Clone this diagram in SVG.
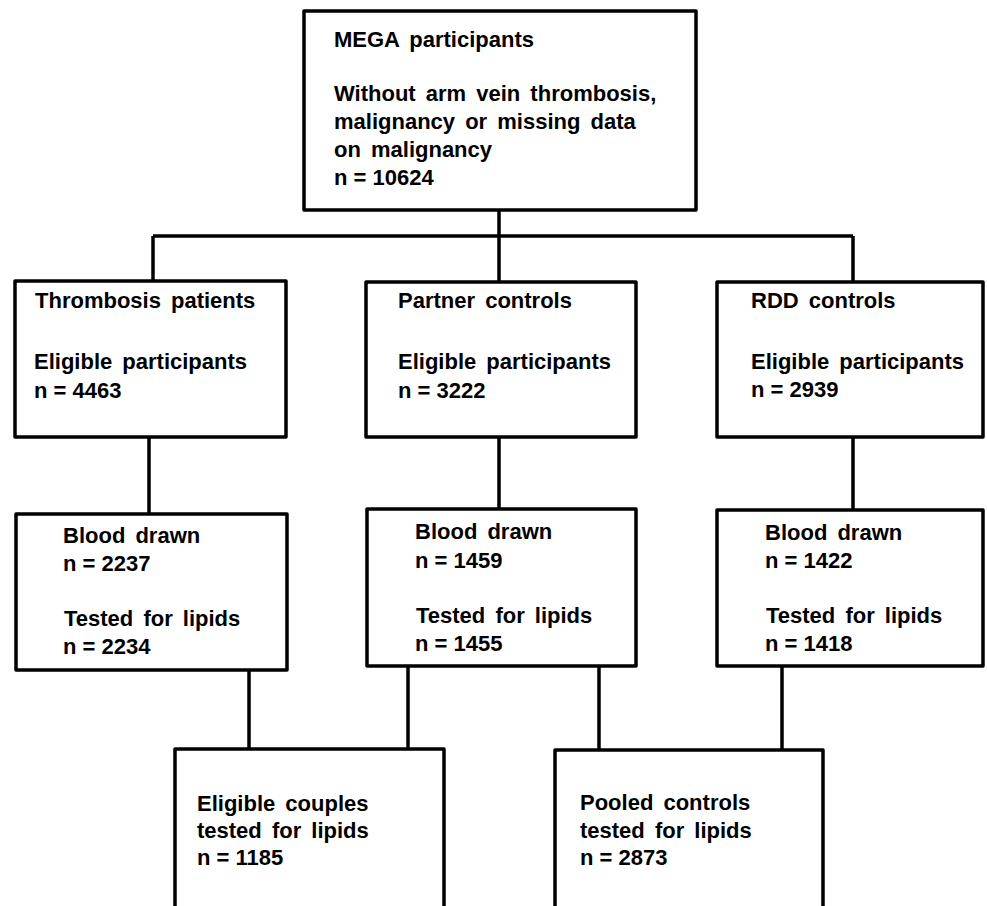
<svg xmlns="http://www.w3.org/2000/svg" width="987" height="906" viewBox="0 0 987 906">
<style>
.box{fill:#fff;stroke:#000;stroke-width:3.5;stroke-linejoin:round}
.ln{fill:none;stroke:#000;stroke-width:3.5}
text{font-family:"Liberation Sans",Arial,sans-serif;font-size:22px;font-weight:bold;fill:#000;word-spacing:4px}
text.n{word-spacing:0}
</style>
<rect width="987" height="906" fill="#fff"/>
<g id="connectors">
<path class="ln" d="M499 210V282M153 236H853M153 236V282M853 236V282"/>
<path class="ln" d="M149 437V514M499 437V509M853 437V510"/>
<path class="ln" d="M249 670V749M408 666V749M599 666V750M782 666V750"/>
</g>
<g id="mega">
<rect class="box" x="304" y="11" width="392" height="199"/>
<text x="334" y="47">MEGA participants</text>
<text x="334" y="101">Without arm vein thrombosis,</text>
<text x="334" y="129">malignancy or missing data</text>
<text x="334" y="157">on malignancy</text>
<text class="n" x="334" y="185">n = 10624</text>
</g>
<g id="thrombosis">
<rect class="box" x="15" y="281" width="271" height="156"/>
<text x="35" y="308">Thrombosis patients</text>
<text x="34" y="369">Eligible participants</text>
<text class="n" x="34" y="398">n = 4463</text>
</g>
<g id="partner">
<rect class="box" x="366" y="282" width="270" height="155"/>
<text x="398" y="308">Partner controls</text>
<text x="398" y="369">Eligible participants</text>
<text class="n" x="398" y="398">n = 3222</text>
</g>
<g id="rdd">
<rect class="box" x="717" y="282" width="266" height="155"/>
<text x="751" y="308">RDD controls</text>
<text x="751" y="369">Eligible participants</text>
<text class="n" x="751" y="397">n = 2939</text>
</g>
<g id="thrombosis-blood">
<rect class="box" x="16" y="514" width="271" height="156"/>
<text x="63" y="543">Blood drawn</text>
<text class="n" x="63" y="571">n = 2237</text>
<text x="64" y="626">Tested for lipids</text>
<text class="n" x="63" y="654">n = 2234</text>
</g>
<g id="partner-blood">
<rect class="box" x="367" y="509" width="269" height="157"/>
<text x="415" y="539">Blood drawn</text>
<text class="n" x="415" y="568">n = 1459</text>
<text x="416" y="623">Tested for lipids</text>
<text class="n" x="415" y="651">n = 1455</text>
</g>
<g id="rdd-blood">
<rect class="box" x="717" y="510" width="266" height="156"/>
<text x="765" y="540">Blood drawn</text>
<text class="n" x="765" y="568">n = 1422</text>
<text x="766" y="623">Tested for lipids</text>
<text class="n" x="765" y="651">n = 1418</text>
</g>
<g id="couples">
<rect class="box" x="175" y="749" width="269" height="160"/>
<text x="197" y="811">Eligible couples</text>
<text x="197" y="838">tested for lipids</text>
<text class="n" x="197" y="865">n = 1185</text>
</g>
<g id="pooled">
<rect class="box" x="555" y="750" width="268" height="159"/>
<text x="580" y="810">Pooled controls</text>
<text x="580" y="838">tested for lipids</text>
<text class="n" x="580" y="865">n = 2873</text>
</g>
</svg>
